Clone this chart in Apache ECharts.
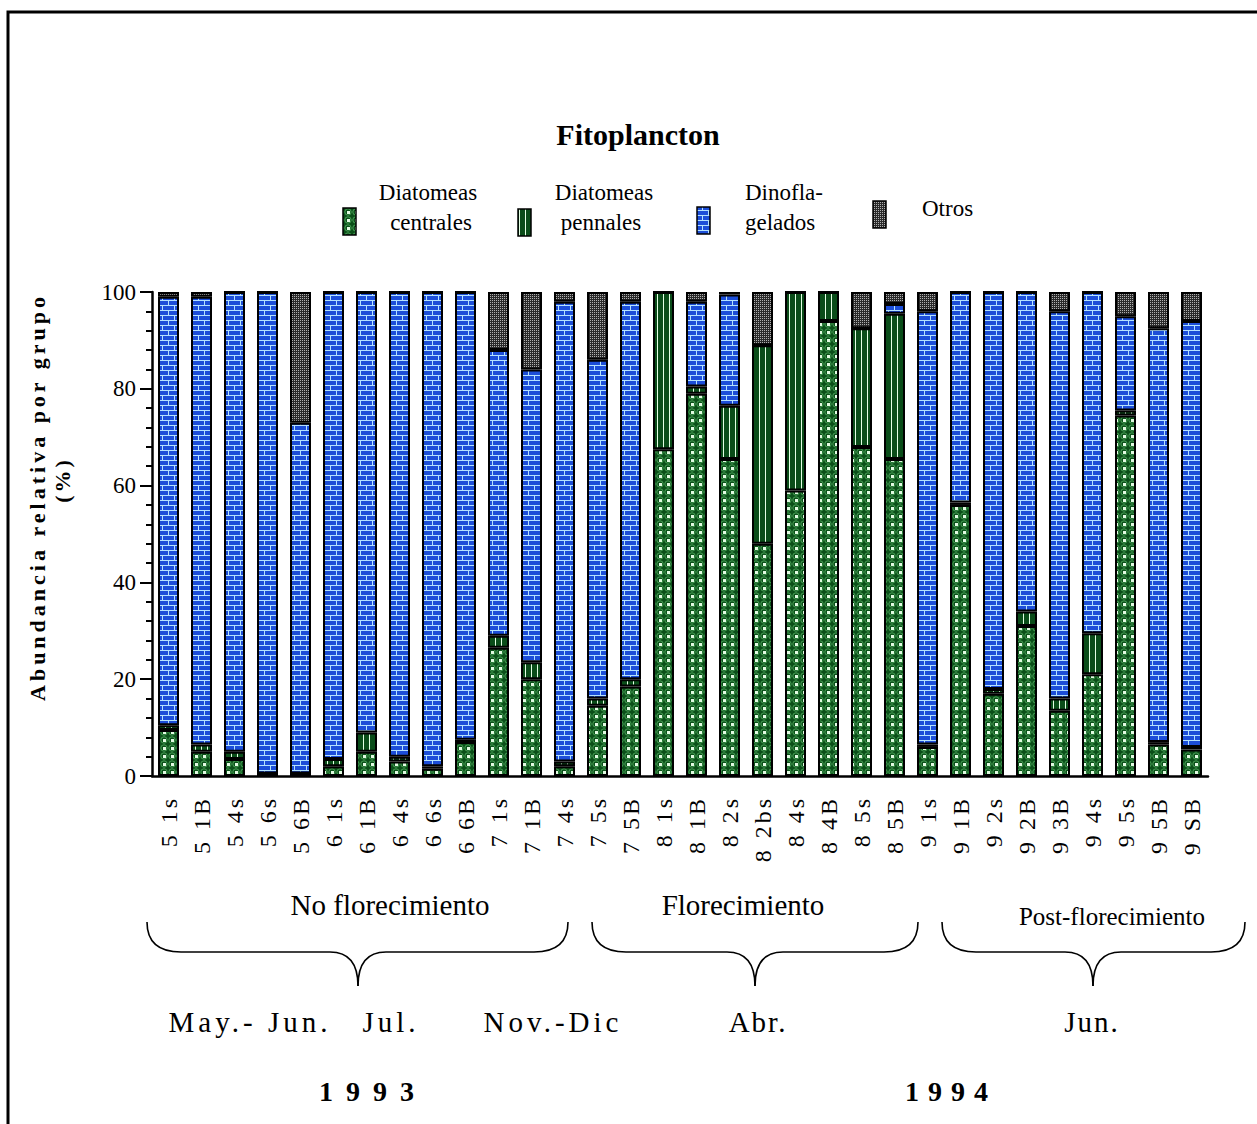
<!DOCTYPE html>
<html>
<head>
<meta charset="utf-8">
<title>Fitoplancton</title>
<script src="https://cdn.jsdelivr.net/npm/echarts@6/dist/echarts.min.js"></script>
<style>
  html, body { margin: 0; padding: 0; background: #ffffff; }
  #chart { width: 1257px; height: 1124px; }
</style>
</head>
<body>
<div id="chart"></div>
<script>
// Sampling stations (cruise number + station)
const categories = [
  '5 1s', '5 1B', '5 4s', '5 6s', '5 6B',
  '6 1s', '6 1B', '6 4s', '6 6s', '6 6B',
  '7 1s', '7 1B', '7 4s', '7 5s', '7 5B',
  '8 1s', '8 1B', '8 2s', '8 2bs', '8 4s', '8 4B', '8 5s', '8 5B',
  '9 1s', '9 1B', '9 2s', '9 2B', '9 3B', '9 4s', '9 5s', '9 5B', '9 SB'
];

// Relative abundance (%) of each phytoplankton group per station
const centrales = [
  9.5, 5, 3.5, 0.5, 0.5,
  2, 5, 3, 1.5, 7,
  26.5, 20, 2, 14.5, 18.5,
  67.5, 79, 65.5, 48, 59, 94, 68, 65.5,
  6, 56, 17, 31, 13.5, 21, 74.5, 6.5, 5.5
];
const pennales = [
  1, 1.5, 1.5, 0, 0,
  1.5, 4, 1, 0.5, 0.5,
  2.5, 3.5, 1, 1.5, 1.5,
  32.5, 1.5, 11, 41, 41, 6, 24.5, 30,
  0.5, 0.5, 1, 3, 2.5, 8.5, 1, 0.5, 0.5
];
const dinoflagelados = [
  88.5, 92.5, 95, 99.5, 72.5,
  96.5, 91, 96, 98, 92.5,
  59, 60.5, 95, 70, 78,
  0, 17.5, 23, 0, 0, 0, 0, 2,
  89.5, 43.5, 82, 66, 80, 70.5, 19.5, 85.5, 88
];
const otros = [
  1, 1, 0, 0, 27,
  0, 0, 0, 0, 0,
  12, 16, 2, 14, 2,
  0, 2, 0.5, 11, 0, 0, 7.5, 2.5,
  4, 0, 0, 0, 4, 0, 5, 7.5, 6
];

const groupNames = ['Diatomeas centrales', 'Diatomeas pennales', 'Dinoflagelados', 'Otros'];
const periodLabels = ['No florecimiento', 'Florecimiento', 'Post-florecimiento'];
const monthLabels = ['May.- Jun.', 'Jul.', 'Nov.-Dic', 'Abr.', 'Jun.'];
const yearLabels = ['1 9 9 3', '1 9 9 4'];

const SERIF = '"Liberation Serif", "Times New Roman", serif';

// ---- fill textures -------------------------------------------------------
function tile(w, h, paint) {
  const c = document.createElement('canvas');
  c.width = w; c.height = h;
  paint(c.getContext('2d'), w, h);
  return { image: c, repeat: 'repeat', imageWidth: w, imageHeight: h };
}

// dark green with rings around pale squares
const fillCentrales = tile(8, 8, (g, w, h) => {
  g.fillStyle = '#0b5019'; g.fillRect(0, 0, w, h);
  g.strokeStyle = '#4aa058'; g.lineWidth = 1;
  g.beginPath(); g.arc(4, 4, 3.2, 0, Math.PI * 2); g.stroke();
  g.fillStyle = '#e2fbe2';
  g.fillRect(3, 3, 3, 3);
});

// dark green with thin white vertical lines
const fillPennales = tile(6, 4, (g, w, h) => {
  g.fillStyle = '#0a4d19'; g.fillRect(0, 0, w, h);
  g.fillStyle = '#e4ffe4'; g.fillRect(3, 0, 1, h);
});

// blue brick wall
const fillDino = tile(12, 10, (g, w, h) => {
  g.fillStyle = '#1c4ed8'; g.fillRect(0, 0, w, h);
  g.fillStyle = '#b4e2ff';
  g.fillRect(0, 0, w, 1); g.fillRect(0, 5, w, 1);
  g.fillRect(0, 0, 1, 5); g.fillRect(6, 5, 1, 5);
});

// grey stipple
const fillOtros = tile(2, 2, (g, w, h) => {
  g.fillStyle = '#2a2a2a'; g.fillRect(0, 0, w, h);
  g.fillStyle = '#b0b0b0'; g.fillRect(0, 0, 1, 1);
});

const fills = [fillCentrales, fillPennales, fillDino, fillOtros];
const values = [centrales, pennales, dinoflagelados, otros];

// ---- decorations ---------------------------------------------------------
function text(x, y, str, font, align, extra) {
  return Object.assign({
    type: 'text', x: x, y: y, silent: true,
    style: { text: str, font: font, fill: '#000', textAlign: align || 'center', textVerticalAlign: 'middle' }
  }, extra || {});
}

const braceStyle = { fill: 'none', stroke: '#000', lineWidth: 1.6 };
function curve(x1, y1, cx, cy, x2, y2) {
  return { type: 'bezierCurve', silent: true,
           shape: { x1: x1, y1: y1, cpx1: cx, cpy1: cy, x2: x2, y2: y2 }, style: braceStyle };
}
function seg(x1, y1, x2, y2) {
  return { type: 'line', silent: true, shape: { x1: x1, y1: y1, x2: x2, y2: y2 }, style: braceStyle };
}
// horizontal curly brace opening downwards, tip at xm
function brace(x1, x2, xm, y0) {
  const y1 = y0 + 30, y2 = y0 + 64;
  return { type: 'group', silent: true, children: [
    curve(x1, y0, x1, y1, x1 + 34, y1),
    seg(x1 + 34, y1, xm - 28, y1),
    curve(xm - 28, y1, xm, y1, xm, y2),
    curve(xm, y2, xm, y1, xm + 28, y1),
    seg(xm + 28, y1, x2 - 34, y1),
    curve(x2 - 34, y1, x2, y1, x2, y0)
  ] };
}

function legendIcon(x, y, fill) {
  return { type: 'rect', silent: true, shape: { x: x, y: y, width: 13, height: 27 },
           style: { fill: fill, stroke: '#000', lineWidth: 1.5 } };
}

const fLegend = '23px ' + SERIF;
const fPeriod = '29px ' + SERIF;
const fMonth = '29px ' + SERIF;

const graphics = [
  // frame
  { type: 'polyline', silent: true, shape: { points: [[8, 1124], [8, 12], [1257, 12]] },
    style: { fill: 'none', stroke: '#000', lineWidth: 3 } },
  // title
  text(638, 134, 'Fitoplancton', 'bold 30px ' + SERIF),
  // legend
  legendIcon(343, 208, fills[0]),
  text(428, 192, 'Diatomeas', fLegend), text(431, 222, 'centrales', fLegend),
  legendIcon(518, 209, fills[1]),
  text(604, 192, 'Diatomeas', fLegend), text(601, 222, 'pennales', fLegend),
  legendIcon(697, 207, fills[2]),
  text(745, 192, 'Dinofla-', fLegend, 'left'), text(745, 222, 'gelados', fLegend, 'left'),
  legendIcon(873, 201, fills[3]),
  text(922, 208, 'Otros', fLegend, 'left'),
  // value axis title
  text(37, 497, 'Abundancia relativa por grupo', 'bold 22px ' + SERIF, 'center', { rotation: Math.PI / 2 }),
  text(62, 480, '(%)', 'bold 22px ' + SERIF, 'center', { rotation: Math.PI / 2 }),
  // periods
  text(390, 905, periodLabels[0], fPeriod),
  text(743, 905, periodLabels[1], fPeriod),
  text(1112, 916, periodLabels[2], '25px ' + SERIF),
  brace(147, 568, 358, 922),
  brace(592, 918, 755, 922),
  brace(942, 1245, 1093, 922),
  // months
  text(250, 1022, monthLabels[0], fMonth),
  text(391, 1022, monthLabels[1], fMonth),
  text(553, 1022, monthLabels[2], fMonth),
  text(758, 1022, monthLabels[3], fMonth),
  text(1092, 1022, monthLabels[4], fMonth),
  // years
  text(368, 1091, yearLabels[0], 'bold 28px ' + SERIF),
  text(947, 1091, yearLabels[1], 'bold 28px ' + SERIF)
];

// ---- chart ---------------------------------------------------------------
const chart = echarts.init(document.getElementById('chart'), null, { renderer: 'svg' });

chart.setOption({
  animation: false,
  backgroundColor: '#ffffff',
  grid: { left: 152, top: 292, width: 1056, height: 484 },
  xAxis: {
    type: 'category',
    data: categories,
    axisLine: { lineStyle: { color: '#000', width: 2.5 } },
    axisTick: { alignWithLabel: true, length: 12, lineStyle: { color: '#000', width: 2 } },
    axisLabel: { rotate: 90, interval: 0, margin: 20, color: '#000', fontFamily: SERIF, fontSize: 24 }
  },
  yAxis: {
    type: 'value', min: 0, max: 100, interval: 20,
    axisLine: { show: true, lineStyle: { color: '#000', width: 2.5 } },
    axisTick: { show: true, length: 12, lineStyle: { color: '#000', width: 2 } },
    minorTick: { show: true, splitNumber: 5, length: 6, lineStyle: { color: '#000', width: 2 } },
    splitLine: { show: false },
    axisLabel: { color: '#000', fontFamily: SERIF, fontSize: 23, margin: 16 }
  },
  series: groupNames.map((name, i) => ({
    type: 'bar',
    name: name,
    stack: 'total',
    data: values[i],
    barWidth: 21,
    itemStyle: { color: fills[i], borderColor: '#000', borderWidth: 2 },
    emphasis: { disabled: true }
  })),
  graphic: graphics
});

// spaced-out lettering for a few captions and the station labels
const spacing = {
  'Abundancia relativa por grupo': 4,
  '(%)': 3,
  'May.- Jun.': 4,
  'Jul.': 4,
  'Nov.-Dic': 4,
  'Abr.': 2,
  'Jun.': 2,
  '1 9 9 3': 3,
  '1 9 9 4': 1
};
categories.forEach(c => { spacing[c] = 3; });
function applySpacing() {
  document.querySelectorAll('#chart text').forEach(t => {
    const s = spacing[t.textContent];
    if (s) t.setAttribute('letter-spacing', s);
  });
}
applySpacing();
chart.on('finished', applySpacing);
</script>
</body>
</html>
